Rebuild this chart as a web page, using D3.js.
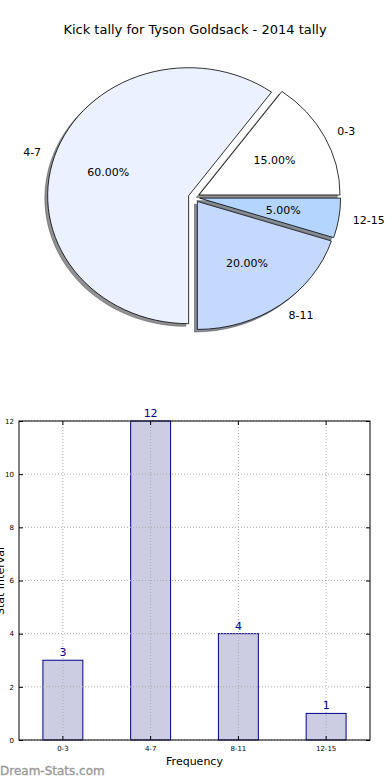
<!DOCTYPE html>
<html><head><meta charset="utf-8">
<script src="https://cdn.jsdelivr.net/npm/d3@7"></script>
<style>
html,body{margin:0;padding:0;background:#fff;}
svg{display:block;font-family:"DejaVu Sans",sans-serif;}
</style></head>
<body><svg id="c" width="390" height="780"></svg>
<script>
const title = "Kick tally for Tyson Goldsack - 2014 tally";
const categories = ["0-3", "4-7", "8-11", "12-15"];
const counts = [3, 12, 4, 1];
const pieColors = ["#ffffff", "#ebf1fe", "#c5d9fe", "#b4d6fe"];
const yTicks = [0, 2, 4, 6, 8, 10, 12];
const xLabel = "Frequency";
const yLabel = "Stat Interval";
const watermark = "Dream-Stats.com";

const svg = d3.select("#c");

svg.append("text").attr("x", 195).attr("y", 34).attr("text-anchor", "middle")
  .attr("font-size", 13).attr("fill", "#000").text(title);

// ---- Pie ----
const cx = 194, cy = 197.3, rx = 141, ry = 128;
const explode = 0.04, shOff = 0.02;
const total = d3.sum(counts);
const pie = d3.pie().sort(null).startAngle(Math.PI / 2).endAngle(Math.PI / 2 - 2 * Math.PI);
const arcs = pie(counts);
const arcGen = d3.arc().innerRadius(0).outerRadius(1);
const pg = svg.append("g").attr("transform", `translate(${cx},${cy}) scale(${rx},${ry})`);
function off(a) {
  const m = (a.startAngle + a.endAngle) / 2;
  return [Math.sin(m) * explode, -Math.cos(m) * explode, m];
}
// shadows first
arcs.forEach((a, i) => {
  const [ox, oy] = off(a);
  const c = d3.rgb(pieColors[i]);
  const sc = d3.rgb(c.r * 0.3, c.g * 0.3, c.b * 0.3);
  pg.append("path").attr("d", arcGen(a))
    .attr("transform", `translate(${ox - shOff},${oy + shOff})`)
    .attr("fill", sc).attr("fill-opacity", 0.6)
    .attr("stroke", sc).attr("stroke-opacity", 0.6)
    .attr("stroke-width", 0.8).attr("vector-effect", "non-scaling-stroke");
});
arcs.forEach((a, i) => {
  const [ox, oy] = off(a);
  pg.append("path").attr("d", arcGen(a))
    .attr("transform", `translate(${ox},${oy})`)
    .attr("fill", pieColors[i]).attr("stroke", "#000")
    .attr("stroke-width", 0.8).attr("vector-effect", "non-scaling-stroke")
    .attr("stroke-linejoin", "miter");
});
arcs.forEach((a, i) => {
  const [ox, oy, m] = off(a);
  const bx = cx + ox * rx, by = cy + oy * ry;
  const lx = bx + 1.1 * Math.sin(m) * rx, ly = by - 1.1 * Math.cos(m) * ry;
  svg.append("text").attr("x", lx).attr("y", ly).attr("dy", "0.35em")
    .attr("text-anchor", Math.sin(m) >= 0 ? "start" : "end")
    .attr("font-size", 11).text(categories[i]);
  const px = bx + 0.6 * Math.sin(m) * rx, py = by - 0.6 * Math.cos(m) * ry;
  svg.append("text").attr("x", px).attr("y", py).attr("dy", "0.35em")
    .attr("text-anchor", "middle").attr("font-size", 11)
    .text((counts[i] / total * 100).toFixed(2) + "%");
});

// ---- Bar chart ----
const L = 19, R = 370, T = 421, B = 740;
const x = d3.scaleBand().domain(categories).range([L, R]).paddingInner(0.545).paddingOuter(0.2725);
const y = d3.scaleLinear().domain([0, 12]).range([B, T]);
const bg = svg.append("g");

bg.selectAll("rect.bar").data(counts).enter().append("rect").attr("class", "bar")
  .attr("x", (d, i) => x(categories[i])).attr("width", x.bandwidth())
  .attr("y", d => y(d)).attr("height", d => B - y(d))
  .attr("fill", "#ccccE3").attr("stroke", "#00008b").attr("stroke-width", 1);

// grid
const grid = bg.append("g").attr("stroke", "#aaaaaa").attr("stroke-width", 1).attr("stroke-dasharray", "1,2");
yTicks.forEach(t => grid.append("line").attr("x1", L).attr("x2", R).attr("y1", y(t)).attr("y2", y(t)));
categories.forEach(c => {
  const xc = x(c) + x.bandwidth() / 2;
  grid.append("line").attr("x1", xc).attr("x2", xc).attr("y1", T).attr("y2", B);
});

// frame
bg.append("rect").attr("x", L).attr("y", T).attr("width", R - L).attr("height", B - T)
  .attr("fill", "none").attr("stroke", "#000").attr("stroke-width", 1);

// y axis ticks
const yAxisL = d3.axisLeft(y).tickValues(yTicks).tickSize(-4).tickPadding(5).tickFormat(d3.format("d"));
const ga = bg.append("g").attr("transform", `translate(${L},0)`).call(yAxisL);
ga.select(".domain").remove();
ga.selectAll("text").attr("font-size", 7).attr("font-family", "DejaVu Sans");
const gr = bg.append("g").attr("transform", `translate(${R},0)`).call(d3.axisRight(y).tickValues(yTicks).tickSize(-4).tickFormat(""));
gr.select(".domain").remove();

const gx = bg.append("g").attr("transform", `translate(0,${B})`)
  .call(d3.axisBottom(x).tickSize(-4).tickPadding(6));
gx.select(".domain").remove();
gx.selectAll("text").attr("font-size", 7).attr("font-family", "DejaVu Sans");
const gxt = bg.append("g").attr("transform", `translate(0,${T})`)
  .call(d3.axisTop(x).tickSize(-4).tickFormat(""));
gxt.select(".domain").remove();

// value labels
bg.selectAll("text.val").data(counts).enter().append("text").attr("class", "val")
  .attr("x", (d, i) => x(categories[i]) + x.bandwidth() / 2)
  .attr("y", d => y(d) - 4).attr("text-anchor", "middle")
  .attr("font-size", 11).attr("fill", "#00008b").text(d => d);

svg.append("text").attr("x", (L + R) / 2).attr("y", 765).attr("text-anchor", "middle")
  .attr("font-size", 11).text(xLabel);
svg.append("text").attr("transform", "translate(4,581) rotate(-90)")
  .attr("text-anchor", "middle").attr("font-size", 11).text(yLabel);

svg.append("text").attr("x", 0).attr("y", 775).attr("font-size", 12)
  .attr("fill", "#999999").attr("stroke", "#999999").attr("stroke-width", 0.35)
  .text(watermark);
</script></body></html>
